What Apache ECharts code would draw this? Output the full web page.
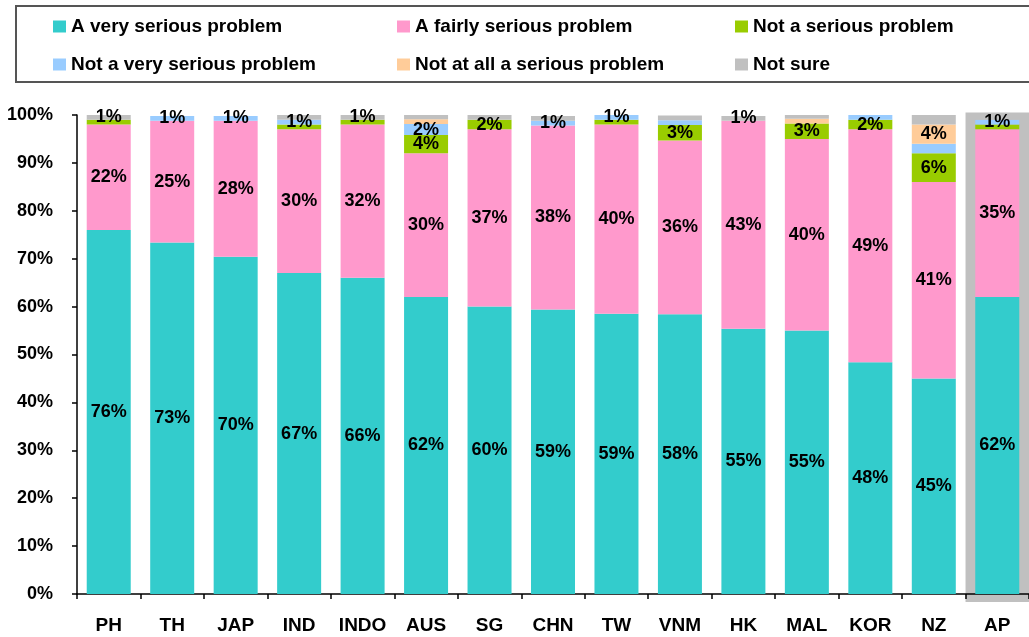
<!DOCTYPE html>
<html>
<head>
<meta charset="utf-8">
<script src="https://cdn.jsdelivr.net/npm/echarts@6/dist/echarts.min.js"></script>
<style>html,body{margin:0;padding:0;background:#fff}#c{width:1029px;height:637px}</style>
</head>
<body>
<div id="c"></div>
<script>
const categories = ['PH','TH','JAP','IND','INDO','AUS','SG','CHN','TW','VNM','HK','MAL','KOR','NZ','AP'];
const yTicks = [0,10,20,30,40,50,60,70,80,90,100];
const seriesNames = ['A very serious problem','A fairly serious problem','Not a serious problem','Not a very serious problem','Not at all a serious problem','Not sure'];
const verySerious   = [76, 73.4, 70.4, 67, 66, 62, 60, 59.4, 58.5, 58.4, 55.4, 55, 48.4, 45, 62];
const fairlySerious = [22, 25.4, 28.4, 30, 32, 30, 37, 38.4, 39.5, 36.3, 43.4, 40, 48.6, 41, 35];
const notSerious    = [1, 0, 0, 1, 1, 3.8, 2, 0, 1, 3.2, 0, 3.2, 2, 6, 1];
const notVerySerious= [0, 1, 1, 1, 0, 2.3, 0, 1, 1, 1, 0, 0, 1, 2, 1];
const notAtAll      = [0, 0, 0, 0, 0, 1, 0, 0, 0, 0, 0, 1, 0, 4, 0];
const notSure       = [1, 0, 0, 1, 1, 1, 1, 1, 0, 1, 1, 1, 0, 2, 1];
// which segments carry a value label
const lblVery   = [1,1,1,1,1,1,1,1,1,1,1,1,1,1,1];
const lblFairly = [1,1,1,1,1,1,1,1,1,1,1,1,1,1,1];
const lblNot    = [0,0,0,0,0,1,1,0,0,1,0,1,1,1,0];
const lblNotVery= [0,1,1,1,0,1,0,1,1,0,0,0,0,0,1];
const lblAtAll  = [0,0,0,0,0,0,0,0,0,0,0,0,0,1,0];
const lblSure   = [1,0,0,0,1,0,0,0,0,0,1,0,0,0,0];
const highlighted = ['AP'];

const colors = ['#33CCCC','#FF99CC','#99CC00','#99CCFF','#FFCC99','#C0C0C0'];
const values = [verySerious, fairlySerious, notSerious, notVerySerious, notAtAll, notSure];
const flags = [lblVery, lblFairly, lblNot, lblNotVery, lblAtAll, lblSure];
const FONT = "'Liberation Sans', Arial, sans-serif";

const barSeries = seriesNames.map((name, k) => ({
  name, type: 'bar', stack: 'total', barWidth: 44, z: 2,
  itemStyle: { color: colors[k] },
  label: { position: 'inside', color: '#000', fontFamily: FONT, fontWeight: 'bold', fontSize: 18,
           formatter: p => Math.round(p.value) + '%' },
  data: values[k].map((v, i) => ({ value: v, label: { show: !!flags[k][i] } }))
}));

const bgSeries = {
  type: 'custom', z: -1, silent: true, clip: false,
  data: highlighted.map(c => [categories.indexOf(c), 100.5]),
  renderItem: (params, api) => {
    const top = api.coord([api.value(0), api.value(1)]);
    const base = api.coord([api.value(0), 0]);
    const w = api.size([1, 0])[0];
    return { type: 'rect', shape: { x: top[0] - w / 2, y: top[1], width: w, height: base[1] - top[1] + 8 },
             style: { fill: '#C0C0C0' } };
  }
};

const legendPos = [[53,17],[397,17],[735,17],[53,55],[397,55],[735,55]];
const legends = seriesNames.map((n, k) => ({
  data: [n], left: legendPos[k][0], top: legendPos[k][1], padding: 0,
  icon: 'rect', itemWidth: 13, itemHeight: 12, selectedMode: false,
  textStyle: { fontFamily: FONT, fontWeight: 'bold', fontSize: 19, color: '#000' }
}));

const chart = echarts.init(document.getElementById('c'), null, { renderer: 'canvas' });
chart.setOption({
  animation: false,
  backgroundColor: '#fff',
  graphic: [{ type: 'rect', shape: { x: 16, y: 6, width: 1040, height: 76 },
              style: { fill: 'none', stroke: '#555', lineWidth: 2 } }],
  legend: legends,
  grid: { left: 77, top: 115, bottom: 43, width: 957 },
  xAxis: {
    type: 'category', data: categories,
    axisLine: { lineStyle: { color: '#000', width: 1.5 } },
    axisTick: { show: true, interval: 0, length: 5, lineStyle: { color: '#000', width: 1.5 } },
    axisLabel: { interval: 0, hideOverlap: false, color: '#000', fontFamily: FONT, fontWeight: 'bold', fontSize: 19, margin: 22 }
  },
  yAxis: {
    type: 'value', min: yTicks[0], max: yTicks[yTicks.length - 1], interval: 10,
    axisLine: { show: true, lineStyle: { color: '#000', width: 1.5 } },
    axisTick: { show: true, length: 5, lineStyle: { color: '#000', width: 1.5 } },
    splitLine: { show: false },
    axisLabel: { color: '#000', fontFamily: FONT, fontWeight: 'bold', fontSize: 18, margin: 24,
                 formatter: '{value}%' }
  },
  series: [bgSeries].concat(barSeries)
});
</script>
</body>
</html>
